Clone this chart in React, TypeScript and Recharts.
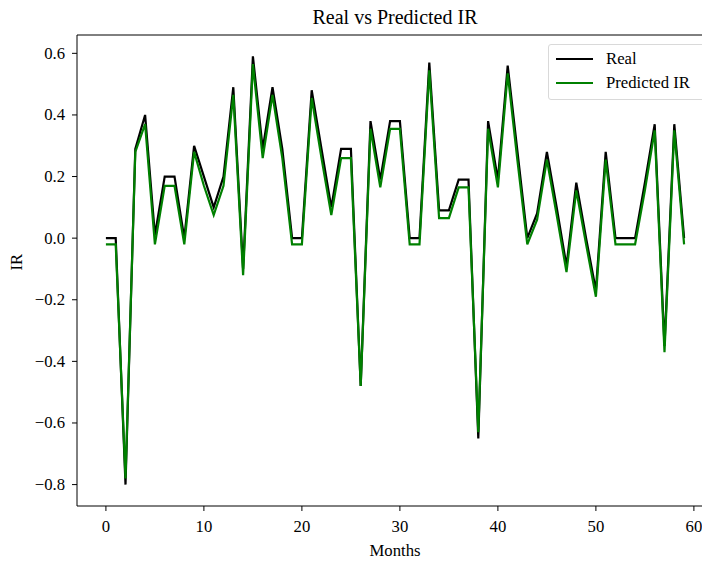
import { LineChart, Line, XAxis, YAxis, ReferenceLine } from 'recharts'

const real = [
  0.0, 0.0, -0.8, 0.29, 0.4, 0.01, 0.2, 0.2, 0.0, 0.3,
  0.2, 0.1, 0.2, 0.49, -0.1, 0.59, 0.29, 0.49, 0.29, 0.0,
  0.0, 0.48, 0.29, 0.1, 0.29, 0.29, -0.48, 0.38, 0.19, 0.38,
  0.38, 0.0, 0.0, 0.57, 0.09, 0.09, 0.19, 0.19, -0.65, 0.38,
  0.19, 0.56, 0.28, 0.0, 0.08, 0.28, 0.1, -0.09, 0.18, 0.0,
  -0.17, 0.28, 0.0, 0.0, 0.0, 0.18, 0.37, -0.35, 0.37, 0.0,
]

const predicted = [
  -0.02, -0.02, -0.78, 0.28, 0.37, -0.02, 0.17, 0.17, -0.02, 0.28,
  0.17, 0.075, 0.17, 0.465, -0.12, 0.565, 0.26, 0.465, 0.26, -0.02,
  -0.02, 0.455, 0.26, 0.075, 0.26, 0.26, -0.48, 0.355, 0.165, 0.355,
  0.355, -0.02, -0.02, 0.545, 0.065, 0.065, 0.165, 0.165, -0.63, 0.355,
  0.165, 0.535, 0.25, -0.02, 0.06, 0.255, 0.075, -0.11, 0.155, -0.02,
  -0.19, 0.255, -0.02, -0.02, -0.02, 0.155, 0.35, -0.37, 0.35, -0.02,
]

const xTicks = [0, 10, 20, 30, 40, 50, 60]
const yTicks = [-0.8, -0.6, -0.4, -0.2, 0.0, 0.2, 0.4, 0.6]

const data = real.map((r, i) => ({ month: i, real: r, predicted: predicted[i] }))

const font = "'Liberation Serif', 'DejaVu Serif', serif"
const fs = 16.7
const fmtY = (v: number) => v.toFixed(1).replace('-', '\u2212')
const Y_TOP = 0.6595

const XTick = (props: any) => {
  const { x, y, payload } = props
  return (
    <text x={x} y={y + 19} textAnchor="middle" fill="#000" fontSize={fs} fontFamily={font}>
      {payload.value}
    </text>
  )
}

const YTick = (props: any) => {
  const { x, y, payload } = props
  return (
    <text x={x - 5} y={y + 5.5} textAnchor="end" fill="#000" fontSize={fs} fontFamily={font}>
      {fmtY(payload.value)}
    </text>
  )
}

function LegendBox() {
  const items = [
    { label: 'Real', color: '#000000' },
    { label: 'Predicted IR', color: '#008000' },
  ]
  return (
    <div
      style={{
        position: 'absolute',
        left: 548,
        top: 44,
        width: 160,
        height: 56,
        boxSizing: 'border-box',
        border: '1px solid #d9d9d9',
        borderRadius: 3,
        background: 'rgba(255,255,255,0.8)',
        padding: '2px 0 0 7px',
        fontFamily: font,
        fontSize: fs,
      }}
    >
      {items.map((it) => (
        <div key={it.label} style={{ display: 'flex', alignItems: 'center', height: 24 }}>
          <div style={{ width: 37, height: 2.5, background: it.color, marginRight: 13 }} />
          <span>{it.label}</span>
        </div>
      ))}
    </div>
  )
}

export default function App() {
  return (
    <div
      style={{
        position: 'absolute',
        left: 0,
        top: 0,
        width: 702,
        height: 563,
        overflow: 'hidden',
        background: '#fff',
        fontFamily: font,
      }}
    >
      <div
        style={{
          position: 'absolute',
          top: 6,
          left: 0,
          width: 790,
          textAlign: 'center',
          fontSize: 20,
          lineHeight: '22px',
        }}
      >
        Real vs Predicted IR
      </div>
      <LineChart
        width={725}
        height={563}
        data={data}
        margin={{ top: 35, right: 12, bottom: 0, left: 0 }}
      >
        <XAxis
          dataKey="month"
          type="number"
          domain={[-2.95, 61.95]}
          ticks={xTicks}
          allowDataOverflow
          height={57}
          tickSize={5}
          stroke="#000"
          tick={<XTick />}
          label={{ value: 'Months', position: 'insideBottom', offset: 7, fill: '#000', fontSize: fs }}
        />
        <YAxis
          type="number"
          domain={[-0.8695, Y_TOP]}
          ticks={yTicks}
          allowDataOverflow
          width={77}
          tickSize={5}
          stroke="#000"
          tick={<YTick />}
          label={{ value: 'IR', angle: -90, position: 'insideLeft', offset: 16, fill: '#000', fontSize: fs }}
        />
        <ReferenceLine y={Y_TOP} stroke="#000" strokeWidth={1} />
        <Line
          dataKey="real"
          stroke="#000000"
          strokeWidth={2.2}
          dot={false}
          isAnimationActive={false}
          strokeLinejoin="miter"
        />
        <Line
          dataKey="predicted"
          stroke="#008000"
          strokeWidth={2.2}
          dot={false}
          isAnimationActive={false}
          strokeLinejoin="miter"
        />
      </LineChart>
      <LegendBox />
    </div>
  )
}
